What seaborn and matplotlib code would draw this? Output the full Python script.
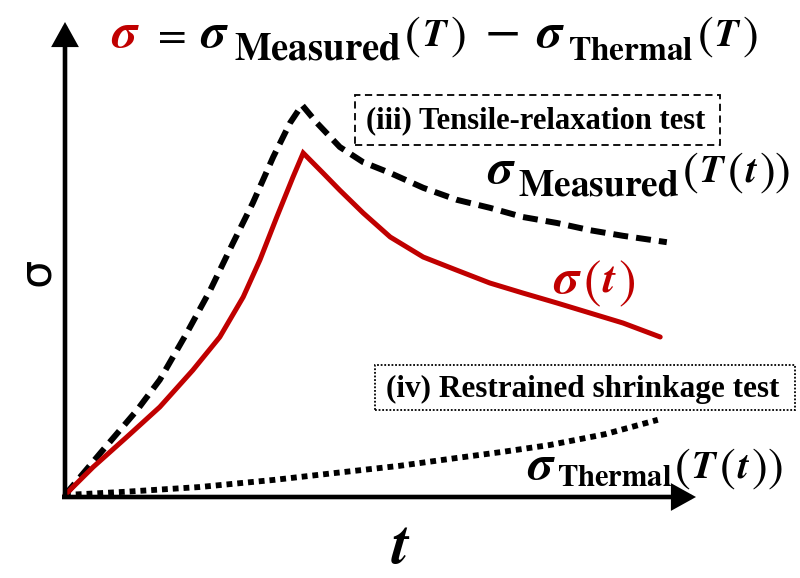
import matplotlib
matplotlib.use("Agg")
import matplotlib.pyplot as plt
import pandas as pd
import seaborn as sns
from matplotlib.patches import Rectangle
from matplotlib.transforms import IdentityTransform

# ---- curve data (t in arbitrary time units, sigma in arbitrary stress units) ----
t_measured = [0, 0.63, 1.2, 1.58, 2.03, 2.42, 2.8, 3.13, 3.47, 3.75, 3.95,
              4.2, 4.58, 4.97, 5.42, 5.97, 6.53, 7.08, 7.63, 8.2, 8.75, 9.3, 10.03]
sigma_measured = [0, 1.12, 2.12, 2.88, 4.05, 5.12, 6.3, 7.3, 8.45, 9.3, 9.75,
                  9.3, 8.7, 8.32, 8.05, 7.68, 7.38, 7.18, 6.95, 6.8, 6.62, 6.48, 6.32]

t_net = [0, 0.47, 1.03, 1.58, 2.13, 2.58, 2.97, 3.25, 3.53, 3.8, 3.97,
         4.3, 4.58, 4.97, 5.42, 5.97, 6.53, 7.08, 7.63, 8.2, 8.75, 9.3, 9.92]
sigma_net = [0, 0.7, 1.45, 2.2, 3.12, 3.95, 4.95, 5.88, 6.95, 7.95, 8.55,
             8.05, 7.62, 7.05, 6.45, 5.95, 5.62, 5.3, 5.05, 4.8, 4.55, 4.3, 3.95]

t_thermal = [0, 1.0, 2.25, 3.5, 4.5, 5.58, 6.5, 7.3, 8.08, 9.0, 9.88]
sigma_thermal = [0, 0.08, 0.2, 0.38, 0.55, 0.73, 0.92, 1.08, 1.25, 1.52, 1.88]

box_labels = ["(iii) Tensile-relaxation test", "(iv) Restrained shrinkage test"]

RED = "#c00000"

sns.set_theme(style="white")
plt.rcParams["font.family"] = ["DejaVu Sans"]
plt.rcParams["mathtext.fontset"] = "custom"
plt.rcParams["mathtext.rm"] = "STIXGeneral"
plt.rcParams["mathtext.it"] = "STIXGeneral:italic:bold"
plt.rcParams["mathtext.bf"] = "STIXGeneral:bold"

W, H = 800, 578
fig = plt.figure(figsize=(W / 100, H / 100), dpi=100)
ax = fig.add_axes([0, 0, 1, 1])

# origin of the sketch axes sits at pixel (65, 495); 60 px per t unit, 40 px per sigma unit
X0, Y0, SX, SY = 65, 495, 60.0, 40.0
ax.set_xlim(-X0 / SX, (W - X0) / SX)
ax.set_ylim((Y0 - H) / SY, Y0 / SY)
ax.axis("off")


def P(px, py):
    return ((px - X0) / SX, (Y0 - py) / SY)


df_meas = pd.DataFrame({"t": t_measured, "sigma": sigma_measured})
df_net = pd.DataFrame({"t": t_net, "sigma": sigma_net})
df_th = pd.DataFrame({"t": t_thermal, "sigma": sigma_thermal})

sns.lineplot(data=df_th, x="t", y="sigma", ax=ax, color="black", lw=4.2,
             linestyle=(0, (1.0, 0.85)), dash_capstyle="butt", estimator=None)
sns.lineplot(data=df_meas, x="t", y="sigma", ax=ax, color="black", lw=4.3,
             linestyle=(0, (2.5, 1.35)), dash_capstyle="butt", estimator=None)
sns.lineplot(data=df_net, x="t", y="sigma", ax=ax, color=RED, lw=3.6,
             solid_joinstyle="miter", estimator=None)

# axis arrows
arrow_kw = dict(arrowstyle="-|>,head_length=1.3,head_width=0.72", lw=3.3,
                color="black", mutation_scale=10, shrinkA=0, shrinkB=0,
                joinstyle="miter", capstyle="butt")
ax.annotate("", xy=P(65, 22), xytext=P(65, 499), arrowprops=arrow_kw)
ax.annotate("", xy=P(696, 497), xytext=P(62, 497), arrowprops=arrow_kw)

ax.text(*P(37, 272), "\u03c3", fontsize=32, rotation=90, ha="center", va="center",
        color="black", family="DejaVu Sans")
ax.text(*P(401, 548), r"$t$", fontsize=44, ha="center", va="center", color="black")

fig.canvas.draw()
renderer = fig.canvas.get_renderer()


def formula(py, pieces):
    """Lay out mathtext pieces on one baseline (py, px from top). Each piece is
    (text, fontsize, colour, baseline drop px, x) where x is an absolute left
    edge in px when it is >= 100, otherwise a gap after the previous piece."""
    x = 0
    for text, size, color, drop, pos in pieces:
        x = pos if pos >= 100 else x + pos
        t = ax.text(x, H - (py + drop), text, fontsize=size, color=color,
                    ha="left", va="baseline", transform=IdentityTransform())
        x = t.get_window_extent(renderer=renderer).x1


SIG, PAR, LET = 36, 34, 28
SD = 1


def sig(x, color="black"):
    return (r"$\sigma$", SIG, color, SD, x)


def sub(word, x, size, drop=14):
    return (r"$\mathbf{%s}$" % word, size, "black", drop, x)


def par(ch, x=1, color="black"):
    return (r"$%s$" % ch, PAR, color, 3, x)


def let(ch, x=1, color="black"):
    return (r"$%s$" % ch, LET, color, 0, x)


formula(46, [
    sig(111, RED),
    (r"$=$", 30, "black", 0, 151),
    sig(200),
    sub("Measured", 234, 28),
    par("(", 3), let("T"), par(")"),
    (r"$-$", 38, "black", 0, 18),
    sig(18),
    sub("Thermal", 3, 24),
    par("(", 3), let("T"), par(")"),
])

formula(182, [
    sig(487),
    sub("Measured", 518, 27),
    par("(", 2), let("T"), par("("), let("t"), par(")"), par(")", 0),
])

formula(478, [
    sig(527),
    sub("Thermal", 557, 22, 8),
    par("(", 2), let("T"), par("("), let("t"), par(")"), par(")", 0),
])

formula(292, [
    (r"$\sigma$", 36, RED, SD, 553),
    (r"$($", 38, RED, 5, 1),
    (r"$t$", 32, RED, 0, 1),
    (r"$)$", 38, RED, 5, 1),
])

# annotation boxes
x_a, y_a = P(355, 145)
x_b, y_b = P(720, 95)
ax.add_patch(Rectangle((x_a, y_a), x_b - x_a, y_b - y_a, fill=False, ec="black",
                       lw=1.3, ls=(0, (4, 2.5))))
ax.text(*P(536, 121), box_labels[0], fontsize=22, fontweight="bold",
        family="Liberation Serif", ha="center", va="center", color="black")

x_a, y_a = P(375, 410)
x_b, y_b = P(795, 365)
ax.add_patch(Rectangle((x_a, y_a), x_b - x_a, y_b - y_a, fill=False, ec="black",
                       lw=1.3, ls=(0, (1, 1))))
ax.text(*P(583, 389), box_labels[1], fontsize=22.5, fontweight="bold",
        family="Liberation Serif", ha="center", va="center", color="black")

fig.savefig("out.png", dpi=100)
